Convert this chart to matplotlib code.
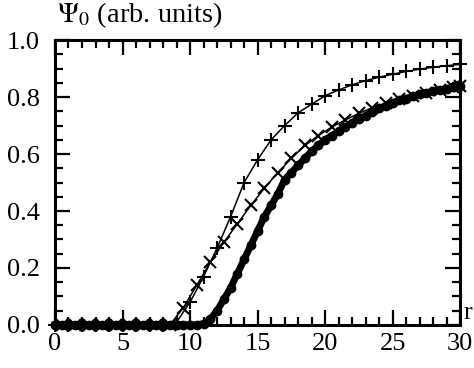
import matplotlib
matplotlib.use('Agg')
import matplotlib.pyplot as plt
from matplotlib.ticker import MultipleLocator

plt.rcParams['font.family'] = ['Liberation Serif', 'DejaVu Serif']
plt.rcParams['mathtext.fontset'] = 'stix'

# '+' curve, sampled every 1 in r
r_plus = list(range(0, 31))
psi_plus = [0, 0, 0, 0, 0, 0, 0, 0, 0, 0.01, 0.08, 0.17, 0.27, 0.38, 0.50, 0.58,
            0.65, 0.70, 0.745, 0.775, 0.805, 0.825, 0.843, 0.858, 0.87, 0.88,
            0.89, 0.898, 0.905, 0.91, 0.915]

# 'x' curve, sampled at half-integer r
r_cross = [k + 0.5 for k in range(0, 30)] + [30]
psi_cross = [0, 0, 0, 0, 0, 0, 0, 0, 0, 0.06, 0.14, 0.22, 0.29, 0.355, 0.42,
             0.48, 0.535, 0.585, 0.63, 0.665, 0.695, 0.72, 0.743, 0.763, 0.778,
             0.793, 0.805, 0.815, 0.825, 0.835, 0.84]

# thick curve, sampled every 0.5 in r
r_dense = [i * 0.5 for i in range(0, 61)]
psi_thick = [0] * 21 + [0, 0.005, 0.02, 0.05, 0.09, 0.13, 0.18, 0.23, 0.28, 0.33,
                        0.38, 0.42, 0.46, 0.51, 0.535, 0.56, 0.585, 0.61, 0.63,
                        0.65, 0.665, 0.68, 0.695, 0.71, 0.722, 0.735, 0.748,
                        0.76, 0.77, 0.78, 0.788, 0.795, 0.803, 0.81, 0.815,
                        0.82, 0.825, 0.83, 0.835, 0.84]

fig = plt.figure(figsize=(4.74, 3.68), dpi=100)
ax = fig.add_axes([0.116, 0.117, 0.855, 0.774])

ax.plot(r_dense, psi_thick, '-o', color='black', lw=5, ms=6, clip_on=False)
ax.plot(r_cross, psi_cross, '-x', color='black', lw=1.1, ms=9, mew=1.5, clip_on=False)
ax.plot(r_plus, psi_plus, '-+', color='black', lw=1.1, ms=10, mew=1.5, clip_on=False)

ax.set_xlim(0, 30)
ax.set_ylim(0, 1.0)
ax.xaxis.set_major_locator(MultipleLocator(5))
ax.xaxis.set_minor_locator(MultipleLocator(1))
ax.yaxis.set_major_locator(MultipleLocator(0.2))
ax.yaxis.set_minor_locator(MultipleLocator(0.05))
ax.yaxis.set_major_formatter(plt.FuncFormatter(lambda v, p: '%.1f' % v))
ax.tick_params(which='both', direction='in', top=True, right=True,
               labelsize=19, width=1.6)
ax.tick_params(which='major', length=11)
ax.tick_params(which='minor', length=6)
ax.tick_params(axis='x', which='major', pad=6)
ax.tick_params(axis='y', which='major', pad=11)
for s in ax.spines.values():
    s.set_linewidth(2.2)

fig.text(0.12, 0.94, r'$\mathrm{\Psi}_0$ (arb. units)', fontsize=20.5, va='baseline')
ax.text(1.008, 0.02, 'r', transform=ax.transAxes, fontsize=19, va='baseline')

fig.savefig('out.png', dpi=100)
